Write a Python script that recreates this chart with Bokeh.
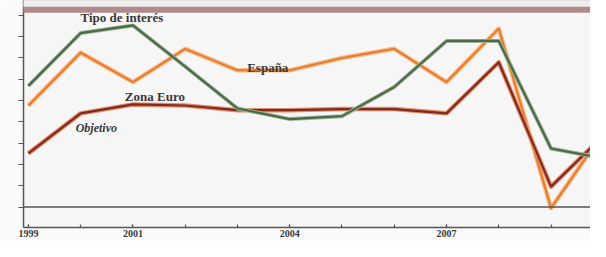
from bokeh.plotting import figure
from bokeh.models import Range1d, FixedTicker, Span, Label, BoxAnnotation, LinearAxis
from bokeh.embed import file_html
from bokeh.resources import INLINE

years = [1999, 2000, 2001, 2002, 2003, 2004, 2005, 2006, 2007, 2008, 2009, 2010]
tipo_interes = [5.69, 8.17, 8.53, 6.6, 4.63, 4.13, 4.27, 5.64, 7.8, 7.8, 2.75, 2.29]
espana = [4.77, 7.25, 5.87, 7.43, 6.42, 6.42, 7.0, 7.43, 5.87, 8.38, -0.05, 3.5]
zona_euro = [2.52, 4.4, 4.82, 4.77, 4.55, 4.55, 4.6, 4.6, 4.4, 6.8, 0.96, 3.35]
labeled_years = [1999, 2001, 2004, 2007, 2010]
y_ticks = [-1, 0, 1, 2, 3, 4, 5, 6, 7, 8, 9]

p = figure(width=590, height=241, output_backend="svg", toolbar_location=None,
           x_range=Range1d(1998.906, 2009.755), y_range=Range1d(-0.96, 9.70),
           x_axis_location=None, y_axis_location=None,
           min_border_left=23, min_border_right=0, min_border_top=0, min_border_bottom=14)
p.grid.visible = False
p.outline_line_color = None
p.background_fill_color = "#f6f6f6"
p.border_fill_color = "#fafafa"

yax = LinearAxis(ticker=FixedTicker(ticks=[], minor_ticks=y_ticks))
yax.minor_tick_out = 5
yax.minor_tick_in = 0
yax.major_tick_line_color = None
yax.axis_line_color = "#555555"
yax.axis_line_width = 1.5
yax.minor_tick_line_color = "#555555"
yax.minor_tick_line_width = 1.2
p.add_layout(yax, "left")

xax = LinearAxis(ticker=FixedTicker(ticks=labeled_years, minor_ticks=years))
xax.major_label_text_font = "Liberation Serif"
xax.major_label_text_font_style = "bold"
xax.major_label_text_font_size = "10px"
xax.major_label_text_color = "#3a3a3a"
xax.major_label_standoff = 2
xax.major_tick_in = 3
xax.major_tick_out = 0
xax.minor_tick_in = 3
xax.minor_tick_out = 0
xax.axis_line_color = "#555555"
xax.axis_line_width = 1.5
xax.major_tick_line_color = "#555555"
xax.major_tick_line_width = 1.2
xax.minor_tick_line_color = "#555555"
xax.minor_tick_line_width = 1.2
p.add_layout(xax, "below")

p.add_layout(Span(location=0, dimension="width", line_color="#555555", line_width=1.5))

# top decorative bands (full width of the canvas)
p.add_layout(BoxAnnotation(left=0, left_units="canvas", bottom=9.13, fill_color="#b08a8a",
                           fill_alpha=1.0, line_color=None, level="overlay"))
p.add_layout(BoxAnnotation(left=0, left_units="canvas", bottom=9.41, fill_color="#eeeeee",
                           fill_alpha=1.0, line_color=None, level="overlay"))

# lines (halo + core)
p.line(years, espana, line_color="#f7b985", line_width=4.5, line_join="round")
p.line(years, espana, line_color="#e57b2e", line_width=2, line_join="round")
p.line(years, zona_euro, line_color="#e58a62", line_width=4.5, line_join="round")
p.line(years, zona_euro, line_color="#7e2a25", line_width=2.2, line_join="round")
p.line(years, tipo_interes, line_color="#9fb59a", line_width=4, line_join="round")
p.line(years, tipo_interes, line_color="#4c6a45", line_width=2.2, line_join="round")

def lab(x, y, t, italic=False, size="13px"):
    p.add_layout(Label(x=x, y=y, text=t, text_align="center", text_baseline="middle",
                       text_font="Liberation Serif",
                       text_font_style="bold italic" if italic else "bold",
                       text_font_size=size, text_color="#3a3a3a"))

lab(2000.79, 8.9, "Tipo de interés")
lab(2003.58, 6.55, "España")
lab(2001.42, 5.18, "Zona Euro")
lab(2000.3, 3.72, "Objetivo", italic=True, size="12px")

open("out.html", "w").write(file_html(p, INLINE))
